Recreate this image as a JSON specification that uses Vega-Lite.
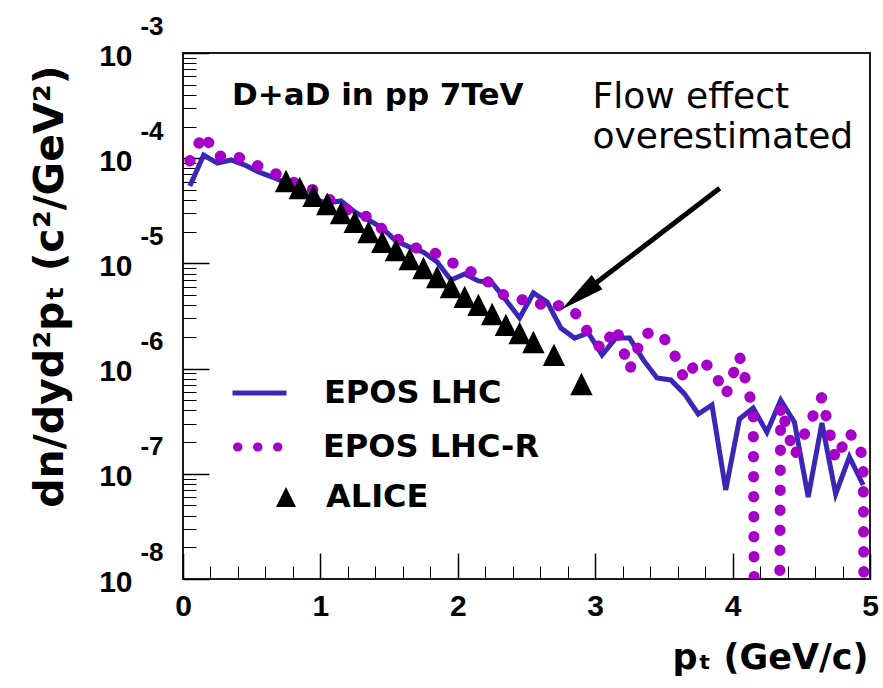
{
  "$schema": "https://vega.github.io/schema/vega-lite/v6.json",
  "width": 687,
  "height": 526,
  "autosize": "none",
  "padding": {"left": 183, "top": 53, "right": 13, "bottom": 109},
  "background": "white",
  "config": {
    "view": {"stroke": "#2a1616", "strokeWidth": 2},
    "axis": {"grid": false, "domain": false},
    "font": "Liberation Sans"
  },
  "datasets": {
    "lhc": [
      {"pt": 0.05, "v": 5.45e-5, "series": "EPOS LHC"},
      {"pt": 0.15, "v": 1.07e-4, "series": "EPOS LHC"},
      {"pt": 0.25, "v": 8.99e-5, "series": "EPOS LHC"},
      {"pt": 0.35, "v": 9.62e-5, "series": "EPOS LHC"},
      {"pt": 0.45, "v": 8.61e-5, "series": "EPOS LHC"},
      {"pt": 0.55, "v": 7.40e-5, "series": "EPOS LHC"},
      {"pt": 0.65, "v": 6.62e-5, "series": "EPOS LHC"},
      {"pt": 0.75, "v": 5.81e-5, "series": "EPOS LHC"},
      {"pt": 0.85, "v": 4.67e-5, "series": "EPOS LHC"},
      {"pt": 0.95, "v": 4.09e-5, "series": "EPOS LHC"},
      {"pt": 1.05, "v": 3.75e-5, "series": "EPOS LHC"},
      {"pt": 1.15, "v": 3.92e-5, "series": "EPOS LHC"},
      {"pt": 1.25, "v": 3.08e-5, "series": "EPOS LHC"},
      {"pt": 1.35, "v": 2.59e-5, "series": "EPOS LHC"},
      {"pt": 1.45, "v": 2.17e-5, "series": "EPOS LHC"},
      {"pt": 1.55, "v": 1.63e-5, "series": "EPOS LHC"},
      {"pt": 1.65, "v": 1.43e-5, "series": "EPOS LHC"},
      {"pt": 1.75, "v": 1.28e-5, "series": "EPOS LHC"},
      {"pt": 1.85, "v": 1.03e-5, "series": "EPOS LHC"},
      {"pt": 1.95, "v": 6.95e-6, "series": "EPOS LHC"},
      {"pt": 2.05, "v": 7.93e-6, "series": "EPOS LHC"},
      {"pt": 2.15, "v": 6.81e-6, "series": "EPOS LHC"},
      {"pt": 2.25, "v": 6.52e-6, "series": "EPOS LHC"},
      {"pt": 2.35, "v": 4.49e-6, "series": "EPOS LHC"},
      {"pt": 2.45, "v": 3.03e-6, "series": "EPOS LHC"},
      {"pt": 2.55, "v": 5.24e-6, "series": "EPOS LHC"},
      {"pt": 2.65, "v": 4.30e-6, "series": "EPOS LHC"},
      {"pt": 2.75, "v": 2.43e-6, "series": "EPOS LHC"},
      {"pt": 2.85, "v": 1.95e-6, "series": "EPOS LHC"},
      {"pt": 2.95, "v": 2.18e-6, "series": "EPOS LHC"},
      {"pt": 3.05, "v": 1.35e-6, "series": "EPOS LHC"},
      {"pt": 3.15, "v": 1.95e-6, "series": "EPOS LHC"},
      {"pt": 3.25, "v": 1.95e-6, "series": "EPOS LHC"},
      {"pt": 3.35, "v": 1.21e-6, "series": "EPOS LHC"},
      {"pt": 3.45, "v": 8.15e-7, "series": "EPOS LHC"},
      {"pt": 3.55, "v": 7.80e-7, "series": "EPOS LHC"},
      {"pt": 3.65, "v": 5.74e-7, "series": "EPOS LHC"},
      {"pt": 3.75, "v": 3.70e-7, "series": "EPOS LHC"},
      {"pt": 3.85, "v": 4.51e-7, "series": "EPOS LHC"},
      {"pt": 3.95, "v": 7.02e-8, "series": "EPOS LHC"},
      {"pt": 4.05, "v": 3.32e-7, "series": "EPOS LHC"},
      {"pt": 4.15, "v": 4.22e-7, "series": "EPOS LHC"},
      {"pt": 4.25, "v": 2.49e-7, "series": "EPOS LHC"},
      {"pt": 4.35, "v": 5.02e-7, "series": "EPOS LHC"},
      {"pt": 4.45, "v": 3.10e-7, "series": "EPOS LHC"},
      {"pt": 4.55, "v": 6.01e-8, "series": "EPOS LHC"},
      {"pt": 4.65, "v": 3.04e-7, "series": "EPOS LHC"},
      {"pt": 4.75, "v": 6.43e-8, "series": "EPOS LHC"},
      {"pt": 4.85, "v": 1.45e-7, "series": "EPOS LHC"},
      {"pt": 4.95, "v": 7.83e-8, "series": "EPOS LHC"}
    ],
    "lhcr": [
      {"pt": 0.05, "v": 9.40e-5, "series": "EPOS LHC-R"},
      {"pt": 0.15, "v": 1.70e-4, "series": "EPOS LHC-R"},
      {"pt": 0.25, "v": 1.03e-4, "series": "EPOS LHC-R"},
      {"pt": 0.35, "v": 1.10e-4, "series": "EPOS LHC-R"},
      {"pt": 0.45, "v": 9.62e-5, "series": "EPOS LHC-R"},
      {"pt": 0.55, "v": 8.43e-5, "series": "EPOS LHC-R"},
      {"pt": 0.65, "v": 7.40e-5, "series": "EPOS LHC-R"},
      {"pt": 0.75, "v": 6.34e-5, "series": "EPOS LHC-R"},
      {"pt": 0.85, "v": 5.56e-5, "series": "EPOS LHC-R"},
      {"pt": 0.95, "v": 4.99e-5, "series": "EPOS LHC-R"},
      {"pt": 1.05, "v": 4.19e-5, "series": "EPOS LHC-R"},
      {"pt": 1.15, "v": 3.44e-5, "series": "EPOS LHC-R"},
      {"pt": 1.25, "v": 3.01e-5, "series": "EPOS LHC-R"},
      {"pt": 1.35, "v": 2.76e-5, "series": "EPOS LHC-R"},
      {"pt": 1.45, "v": 2.12e-5, "series": "EPOS LHC-R"},
      {"pt": 1.55, "v": 1.74e-5, "series": "EPOS LHC-R"},
      {"pt": 1.65, "v": 1.46e-5, "series": "EPOS LHC-R"},
      {"pt": 1.75, "v": 1.34e-5, "series": "EPOS LHC-R"},
      {"pt": 1.85, "v": 1.23e-5, "series": "EPOS LHC-R"},
      {"pt": 1.95, "v": 1.03e-5, "series": "EPOS LHC-R"},
      {"pt": 2.05, "v": 8.85e-6, "series": "EPOS LHC-R"},
      {"pt": 2.15, "v": 7.76e-6, "series": "EPOS LHC-R"},
      {"pt": 2.25, "v": 6.24e-6, "series": "EPOS LHC-R"},
      {"pt": 2.35, "v": 4.80e-6, "series": "EPOS LHC-R"},
      {"pt": 2.45, "v": 4.49e-6, "series": "EPOS LHC-R"},
      {"pt": 2.55, "v": 4.59e-6, "series": "EPOS LHC-R"},
      {"pt": 2.65, "v": 3.69e-6, "series": "EPOS LHC-R"},
      {"pt": 2.75, "v": 4.03e-6, "series": "EPOS LHC-R"},
      {"pt": 2.85, "v": 3.45e-6, "series": "EPOS LHC-R"},
      {"pt": 2.95, "v": 2.18e-6, "series": "EPOS LHC-R"},
      {"pt": 3.05, "v": 1.50e-6, "series": "EPOS LHC-R"},
      {"pt": 3.15, "v": 2.48e-6, "series": "EPOS LHC-R"},
      {"pt": 3.25, "v": 9.70e-7, "series": "EPOS LHC-R"},
      {"pt": 3.35, "v": 2.13e-6, "series": "EPOS LHC-R"},
      {"pt": 3.45, "v": 2.23e-6, "series": "EPOS LHC-R"},
      {"pt": 3.55, "v": 1.67e-6, "series": "EPOS LHC-R"},
      {"pt": 3.65, "v": 7.80e-7, "series": "EPOS LHC-R"},
      {"pt": 3.75, "v": 1.21e-6, "series": "EPOS LHC-R"},
      {"pt": 3.85, "v": 1.01e-6, "series": "EPOS LHC-R"},
      {"pt": 3.95, "v": 5.61e-7, "series": "EPOS LHC-R"},
      {"pt": 4.05, "v": 1.32e-6, "series": "EPOS LHC-R"},
      {"pt": 4.15, "v": 4.04e-7, "series": "EPOS LHC-R"},
      {"pt": 4.25, "v": 1e-30, "series": "EPOS LHC-R"},
      {"pt": 4.35, "v": 4.41e-7, "series": "EPOS LHC-R"},
      {"pt": 4.45, "v": 1.48e-7, "series": "EPOS LHC-R"},
      {"pt": 4.55, "v": 2.84e-7, "series": "EPOS LHC-R"},
      {"pt": 4.65, "v": 5.37e-7, "series": "EPOS LHC-R"},
      {"pt": 4.75, "v": 1.35e-7, "series": "EPOS LHC-R"},
      {"pt": 4.85, "v": 2.49e-7, "series": "EPOS LHC-R"},
      {"pt": 4.95, "v": 1.48e-7, "series": "EPOS LHC-R"},
      {"pt": 5.05, "v": 1e-30, "series": "EPOS LHC-R"}
    ],
    "alice": [
      {"pt": 0.75, "v": 6.07e-5, "series": "ALICE"},
      {"pt": 0.85, "v": 5.21e-5, "series": "ALICE"},
      {"pt": 0.95, "v": 4.38e-5, "series": "ALICE"},
      {"pt": 1.05, "v": 3.67e-5, "series": "ALICE"},
      {"pt": 1.15, "v": 3.01e-5, "series": "ALICE"},
      {"pt": 1.25, "v": 2.48e-5, "series": "ALICE"},
      {"pt": 1.35, "v": 1.99e-5, "series": "ALICE"},
      {"pt": 1.45, "v": 1.60e-5, "series": "ALICE"},
      {"pt": 1.55, "v": 1.34e-5, "series": "ALICE"},
      {"pt": 1.65, "v": 1.10e-5, "series": "ALICE"},
      {"pt": 1.75, "v": 9.04e-6, "series": "ALICE"},
      {"pt": 1.85, "v": 7.43e-6, "series": "ALICE"},
      {"pt": 1.95, "v": 5.97e-6, "series": "ALICE"},
      {"pt": 2.05, "v": 4.80e-6, "series": "ALICE"},
      {"pt": 2.15, "v": 4.03e-6, "series": "ALICE"},
      {"pt": 2.25, "v": 3.30e-6, "series": "ALICE"},
      {"pt": 2.35, "v": 2.60e-6, "series": "ALICE"},
      {"pt": 2.45, "v": 2.18e-6, "series": "ALICE"},
      {"pt": 2.55, "v": 1.79e-6, "series": "ALICE"},
      {"pt": 2.7, "v": 1.35e-6, "series": "ALICE"},
      {"pt": 2.9, "v": 7.14e-7, "series": "ALICE"}
    ],
    "arrow": [{"pt": 3.906, "v": 5.18e-5, "pt2": 2.884, "v2": 4.92e-6}],
    "head": [{"pt": 2.884, "v": 4.92e-6}],
    "title": [{"pt": 0.357, "v": 3.21e-4, "text": "D+aD in pp 7TeV"}],
    "note": [
      {"pt": 2.98, "v": 2.98e-4, "text": "Flow effect"},
      {"pt": 2.98, "v": 1.24e-4, "text": "overestimated"}
    ]
  },
  "layer": [
    {
      "data": {"name": "lhc"},
      "mark": {"type": "line", "strokeWidth": 5, "clip": true},
      "encoding": {
        "x": {
          "field": "pt", "type": "quantitative",
          "scale": {"domain": [0, 5], "nice": false, "zero": false},
          "axis": {
            "orient": "bottom", "values": [0, 1, 2, 3, 4, 5], "format": "d",
            "labelFont": "Liberation Sans", "labelFontWeight": "bold", "labelFontSize": 30, "labelColor": "black",
            "labelPadding": 12, "ticks": false, "tickSize": 0, "labelFlush": false, "labelOverlap": false,
            "title": "pₜ (GeV/c)", "titleFont": "DejaVu Sans", "titleFontSize": 35, "titleFontWeight": "bold", "titleColor": "black",
            "titleAnchor": "end", "titleAlign": "right", "titleBaseline": "alphabetic", "titleX": 685, "titleY": 89
          }
        },
        "y": {
          "field": "v", "type": "quantitative",
          "scale": {"type": "log", "domain": [1e-8, 1e-3], "nice": false},
          "axis": {
            "orient": "left", "values": [1e-8, 1e-7, 1e-6, 1e-5, 1e-4, 1e-3], "labelExpr": "'10'",
            "labelFont": "Liberation Sans", "labelFontWeight": "bold", "labelFontSize": 30, "labelColor": "black",
            "labelPadding": 51, "labelOffset": 3, "ticks": false, "tickSize": 0, "labelFlush": false, "labelOverlap": false, "labelBaseline": "middle",
            "title": "dn/dyd²pₜ (c²/GeV²)", "titleFont": "DejaVu Sans", "titleFontSize": 41, "titleFontWeight": "bold", "titleColor": "black",
            "titleAngle": -90, "titleAnchor": "end", "titleAlign": "right", "titleBaseline": "middle", "titleX": -133, "titleY": 12
          }
        },
        "color": {
          "field": "series", "type": "nominal",
          "scale": {"domain": ["EPOS LHC"], "range": ["#3a27b5"]},
          "legend": {
            "orient": "none", "legendX": 47, "legendY": 323, "title": null, "padding": 0,
            "symbolType": "stroke", "symbolSize": 2916, "symbolStrokeWidth": 5,
            "labelFont": "DejaVu Sans", "labelFontWeight": "bold", "labelFontSize": 32, "labelColor": "black",
            "labelOffset": 35, "labelLimit": 0, "clipHeight": 34
          }
        }
      }
    },
    {
      "data": {"name": "lhcr"},
      "mark": {"type": "line", "color": "#a600c8", "strokeWidth": 11, "strokeCap": "round", "clip": true},
      "encoding": {
        "x": {
          "field": "pt", "type": "quantitative",
          "axis": {"orient": "bottom", "values": [0, 1, 2, 3, 4, 5], "labels": false, "ticks": true, "tickSize": -26, "tickColor": "black", "tickWidth": 1.5, "title": null}
        },
        "y": {
          "field": "v", "type": "quantitative",
          "axis": {
            "orient": "left", "values": [1e-8, 1e-7, 1e-6, 1e-5, 1e-4, 1e-3],
            "labelExpr": "'-' + round(-log(datum.value) / LN10)",
            "labelFont": "Liberation Sans", "labelFontWeight": "bold", "labelFontSize": 26, "labelColor": "black",
            "labelPadding": 20, "labelOffset": -27, "ticks": false, "tickSize": 0, "labelFlush": false, "labelOverlap": false, "labelBaseline": "middle",
            "title": null
          }
        },
        "strokeDash": {
          "field": "series", "type": "nominal",
          "scale": {"domain": ["EPOS LHC-R"], "range": [[0.5, 19.5]]},
          "legend": {
            "orient": "none", "legendX": 50, "legendY": 377, "title": null, "padding": 0,
            "symbolType": "stroke", "symbolSize": 1681, "symbolStrokeWidth": 9, "symbolStrokeColor": "#a600c8",
            "labelFont": "DejaVu Sans", "labelFontWeight": "bold", "labelFontSize": 32, "labelColor": "black",
            "labelOffset": 40, "labelLimit": 0, "clipHeight": 34,
            "encode": {"symbols": {"update": {"strokeCap": {"value": "round"}}}}
          }
        }
      }
    },
    {
      "data": {"name": "alice"},
      "mark": {"type": "point", "filled": true, "color": "black", "size": 500, "opacity": 1, "shape": "M0,-1L1,1L-1,1Z"},
      "encoding": {
        "x": {
          "field": "pt", "type": "quantitative",
          "axis": {"orient": "bottom", "values": [0.2, 0.4, 0.6, 0.8, 1.2, 1.4, 1.6, 1.8, 2.2, 2.4, 2.6, 2.8, 3.2, 3.4, 3.6, 3.8, 4.2, 4.4, 4.6, 4.8], "labels": false, "ticks": true, "tickSize": -13, "tickColor": "black", "tickWidth": 1, "title": null}
        },
        "y": {
          "field": "v", "type": "quantitative",
          "axis": {"orient": "left", "values": [1e-8, 1e-7, 1e-6, 1e-5, 1e-4, 1e-3], "labels": false, "ticks": true, "tickSize": -26, "tickColor": "black", "tickWidth": 1.5, "title": null}
        },
        "shape": {
          "field": "series", "type": "nominal",
          "scale": {"domain": ["ALICE"], "range": ["M0,-1L1,1L-1,1Z"]},
          "legend": {
            "orient": "none", "legendX": 87, "legendY": 427, "title": null, "padding": 0,
            "symbolSize": 400, "symbolFillColor": "black", "symbolStrokeColor": "black", "symbolStrokeWidth": 0,
            "labelFont": "DejaVu Sans", "labelFontWeight": "bold", "labelFontSize": 32, "labelColor": "black",
            "labelOffset": 24, "labelLimit": 0, "clipHeight": 34
          }
        }
      }
    },
    {
      "data": {"name": "arrow"},
      "mark": {"type": "rule", "color": "black", "strokeWidth": 5},
      "encoding": {
        "x": {"field": "pt", "type": "quantitative", "axis": null},
        "y": {
          "field": "v", "type": "quantitative",
          "axis": {"orient": "left", "values": [2e-8, 3e-8, 4e-8, 5e-8, 6e-8, 7e-8, 8e-8, 9e-8, 2e-7, 3e-7, 4e-7, 5e-7, 6e-7, 7e-7, 8e-7, 9e-7, 2e-6, 3e-6, 4e-6, 5e-6, 6e-6, 7e-6, 8e-6, 9e-6, 2e-5, 3e-5, 4e-5, 5e-5, 6e-5, 7e-5, 8e-5, 9e-5, 2e-4, 3e-4, 4e-4, 5e-4, 6e-4, 7e-4, 8e-4, 9e-4], "labels": false, "ticks": true, "tickSize": -13, "tickColor": "black", "tickWidth": 1, "title": null}
        },
        "x2": {"field": "pt2"},
        "y2": {"field": "v2"}
      }
    },
    {
      "data": {"name": "head"},
      "mark": {"type": "point", "filled": true, "color": "black", "opacity": 1, "shape": "M0,-1L0.4,1L-0.4,1Z", "size": 2000, "angle": 232.6},
      "encoding": {
        "x": {"field": "pt", "type": "quantitative", "axis": null},
        "y": {"field": "v", "type": "quantitative", "axis": null}
      }
    },
    {
      "data": {"name": "title"},
      "mark": {"type": "text", "font": "DejaVu Sans", "fontWeight": "bold", "fontSize": 31, "align": "left", "baseline": "alphabetic", "color": "black"},
      "encoding": {
        "x": {"field": "pt", "type": "quantitative", "axis": null},
        "y": {"field": "v", "type": "quantitative", "axis": null},
        "text": {"field": "text"}
      }
    },
    {
      "data": {"name": "note"},
      "mark": {"type": "text", "font": "DejaVu Sans", "fontSize": 36, "align": "left", "baseline": "alphabetic", "color": "black"},
      "encoding": {
        "x": {"field": "pt", "type": "quantitative", "axis": null},
        "y": {"field": "v", "type": "quantitative", "axis": null},
        "text": {"field": "text"}
      }
    }
  ],
  "resolve": {"scale": {"x": "shared", "y": "shared"}, "axis": {"x": "independent", "y": "independent"}}
}
